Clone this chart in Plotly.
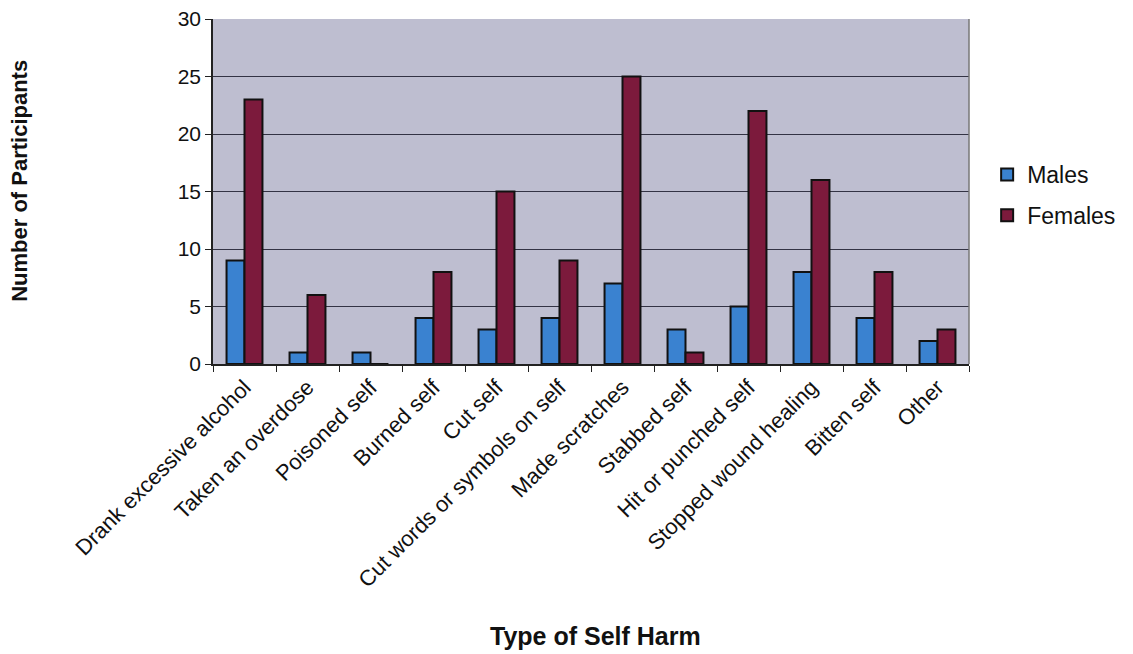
import plotly.graph_objects as go

categories = ["Drank excessive alcohol", "Taken an overdose", "Poisoned self", "Burned self",
              "Cut self", "Cut words or symbols on self", "Made scratches", "Stabbed self",
              "Hit or punched self", "Stopped wound healing", "Bitten self", "Other"]
males = [9, 1, 1, 4, 3, 4, 7, 3, 5, 8, 4, 2]
females = [23, 6, 0, 8, 15, 9, 25, 1, 22, 16, 8, 3]
y_ticks = [0, 5, 10, 15, 20, 25, 30]

FONT = "Liberation Sans, Arial, sans-serif"

fig = go.Figure()
fig.add_trace(go.Bar(x=categories, y=males, name="Males", legendgroup="m",
                     marker=dict(color="#3A82D0", line=dict(color="#111111", width=2))))
fig.add_trace(go.Bar(x=categories, y=females, name="Females", legendgroup="f",
                     marker=dict(color="#7C1A3C", line=dict(color="#111111", width=2))))

fig.update_layout(
    width=1133, height=654,
    margin=dict(l=213, r=161, t=19, b=290),
    paper_bgcolor="white",
    plot_bgcolor="#BEBED0",
    barmode="group", bargap=0.43, bargroupgap=0,
    font=dict(family=FONT, color="#111111", size=16),
    showlegend=True,
    legend=dict(x=1.024, y=0.49, xanchor="left", yanchor="middle",
                font=dict(size=23, family=FONT), itemwidth=30, tracegroupgap=8,
                bgcolor="rgba(0,0,0,0)"),
    xaxis=dict(tickangle=-45, tickfont=dict(size=22), showline=True, linecolor="#222222",
               linewidth=1.5, ticks="outside", ticklen=6, tickcolor="#222222",
               tickson="boundaries", showgrid=False, automargin=False),
    yaxis=dict(range=[0, 30], tickvals=y_ticks, tickfont=dict(size=21), showline=True,
               linecolor="#222222", linewidth=1.5, ticks="outside", ticklen=6,
               tickcolor="#222222", showgrid=True, gridcolor="#333344", gridwidth=1,
               zeroline=False, automargin=False),
    annotations=[
        dict(text="<b>Type of Self Harm</b>", xref="paper", yref="paper", x=0.506, y=-0.788,
             xanchor="center", yanchor="middle", showarrow=False, font=dict(size=25)),
        dict(text="<b>Number of Participants</b>", xref="paper", yref="paper", x=-0.257, y=0.53,
             xanchor="center", yanchor="middle", showarrow=False, textangle=-90,
             font=dict(size=22)),
    ],
)
fig.add_shape(type="line", xref="paper", yref="paper", x0=1, x1=1, y0=0, y1=1,
              line=dict(color="#777777", width=1.5))
fig.write_html("out.html")
